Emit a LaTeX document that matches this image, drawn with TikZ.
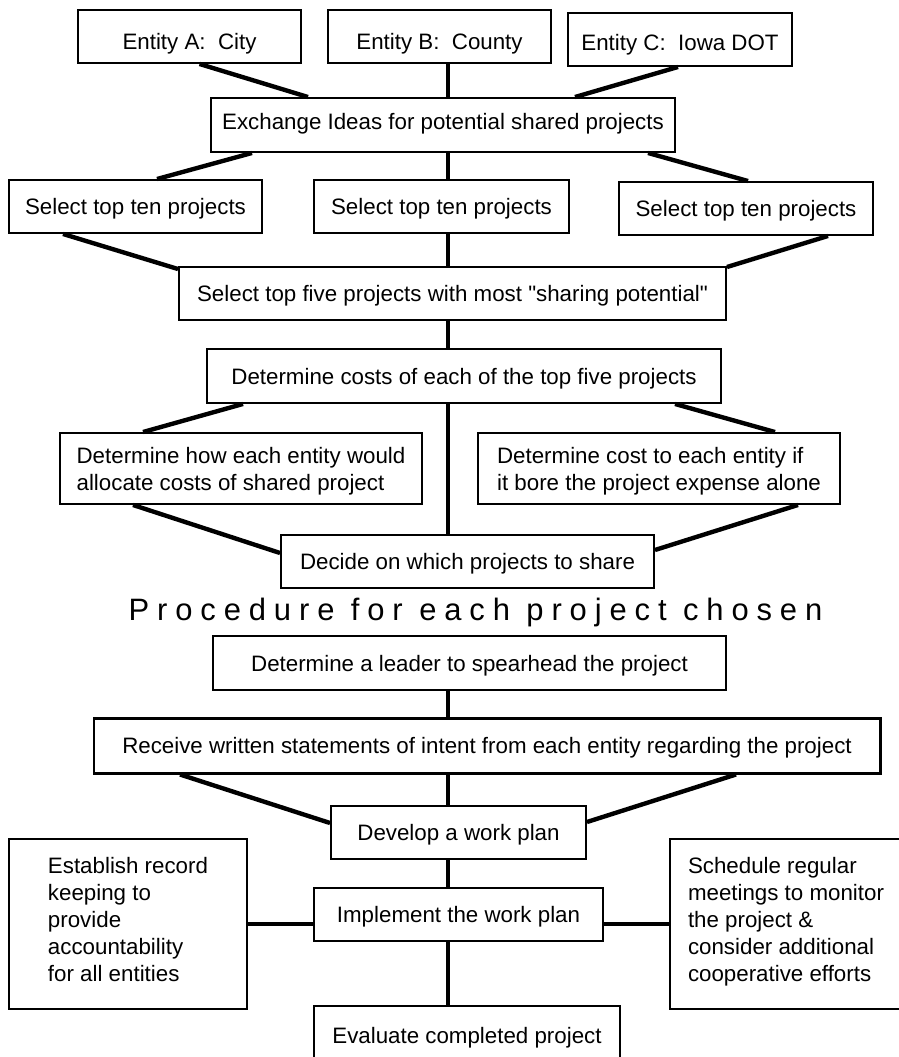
\documentclass[tikz,border=0pt]{standalone}
\usepackage{fontspec}
\setmainfont{Liberation Sans}
\newfontfamily\spacedfont[LetterSpace=25.5]{Liberation Sans}
\usepackage{tikz}
\usetikzlibrary{
  positioning,
  calc}
\tikzset{procbox/.style={draw, line width=1.1pt, inner sep=0pt, minimum height=1.06cm,
                         font=\fontsize{12.7pt}{15.45pt}\selectfont},
         onebox/.style={procbox, text height=0.32cm, text depth=0pt},
         tie/.style={line width=2.5pt}
        }

\begin{document}
\begin{tikzpicture}
\useasboundingbox (0,0) rectangle (17.96,-21.14);
\coordinate (spine) at (8.96,0);

%Upper part
\node[onebox, text height=0.52cm, minimum width=4.46cm] at (3.79,-0.73)(cityA){Entity A:\ \ City};
\node[onebox, text height=0.52cm, minimum width=4.46cm] at (8.79,-0.73)(countyB){Entity B:\ \ County};
\node[onebox, text height=0.44cm, minimum width=4.48cm] at (13.6,-0.79)(dotC){Entity C:\ \ Iowa DOT};

\node[onebox, text height=0.18cm, minimum width=9.28cm, minimum height=1.08cm] at (8.86,-2.5)(exch){Exchange Ideas for potential shared projects};

\node[onebox, minimum width=5.06cm] at (2.71,-4.13)(tenL){Select top ten projects};
\node[onebox, minimum width=5.10cm] at (8.83,-4.13)(tenM){Select top ten projects};
\node[onebox, minimum width=5.08cm] at (14.92,-4.17)(tenR){Select top ten projects};

\node[onebox, minimum width=10.94cm] at (9.05,-5.87)(fiveT){Select top five projects with most \textquotedbl sharing potential\textquotedbl};
\node[onebox, minimum width=10.28cm, minimum height=1.08cm] at (9.28,-7.52)(costs){Determine costs of each of the top five projects};

\node[procbox, text depth=0pt, minimum width=7.24cm, minimum height=1.42cm, align=left] at (4.82,-9.37)(alloc){Determine how each entity would\\allocate costs of shared project};
\node[procbox, text depth=0pt, minimum width=7.24cm, minimum height=1.42cm, align=left] at (13.18,-9.37)(alone){Determine cost to each entity if\\it bore the project expense alone};

\node[onebox, minimum width=7.46cm] at (9.35,-11.23)(decide){Decide on which projects to share};

\draw[tie] ([xshift=0.2cm]cityA.south) -- ([xshift=-2.7cm]exch.north);
\draw[tie] (countyB.south -| spine) -- (exch.north -| spine);
\draw[tie] ([xshift=-0.04cm]dotC.south) -- ([xshift=2.64cm]exch.north);

\draw[tie] ([xshift=-3.82cm]exch.south) -- ([xshift=0.43cm]tenL.north);
\draw[tie] (exch.south -| spine) -- (tenM.north -| spine);
\draw[tie] ([xshift=4.1cm]exch.south) -- ([xshift=0.04cm]tenR.north);

\draw[tie] ([xshift=-1.45cm]tenL.south) -- ([yshift=-0.06cm]fiveT.north west);
\draw[tie] (tenM.south -| spine) -- (fiveT.north -| spine);
\draw[tie] ([xshift=1.64cm]tenR.south) -- ([yshift=-0.02cm]fiveT.north east);

\draw[tie] (fiveT.south -| spine) -- (costs.north -| spine);
\draw[tie] ([xshift=-4.42cm]costs.south) -- ([xshift=-1.96cm]alloc.north);
\draw[tie] ([xshift=4.22cm]costs.south) -- ([xshift=2.32cm]alone.north);
\draw[tie] (costs.south -| spine) -- (decide.north -| spine);

\draw[tie] ([xshift=-2.16cm]alloc.south) -- ([yshift=0.17cm]decide.west);
\draw[tie] ([xshift=2.78cm]alone.south) -- ([yshift=0.23cm]decide.east);

%Lower part
\node[anchor=base, font=\fontsize{17.6pt}{20pt}\spacedfont] at (9.51,-12.4)(title){Procedure for each project chosen};

\node[onebox, minimum width=10.26cm, minimum height=1.08cm] at (9.39,-13.26)(leader){Determine a leader to spearhead the project};
\node[onebox, line width=1.7pt, minimum width=15.72cm, minimum height=1.10cm] at (9.74,-14.91)(intent){Receive written statements of intent from each entity regarding the project};
\node[onebox, minimum width=5.10cm] at (9.17,-16.65)(plan){Develop a work plan};

\node[procbox, text depth=0.18cm, minimum width=4.76cm, minimum height=3.40cm, align=left] at (2.56,-18.48)(record){Establish record\\keeping to\\provide\\accountability\\for all entities};
\node[onebox, minimum width=5.78cm] at (9.17,-18.29)(implement){Implement the work plan};
\node[procbox, text depth=0.18cm, minimum width=4.64cm, minimum height=3.40cm, align=left] at (15.72,-18.48)(meetings){Schedule regular\\meetings to monitor\\the project \&\\consider additional\\cooperative efforts};

\node[onebox, minimum width=6.12cm, minimum height=1.16cm] at (9.34,-20.70)(evaluate){Evaluate completed project};

\draw[tie] (leader.south -| spine) -- (intent.north -| spine);
\draw[tie] (intent.south -| spine) -- (plan.north -| spine);
\draw[tie] ([xshift=-6.14cm]intent.south) -- ([yshift=0.19cm]plan.west);
\draw[tie] ([xshift=4.98cm]intent.south) -- ([yshift=0.21cm]plan.east);

\draw[tie] (plan.south -| spine) -- (implement.north -| spine);
\draw[tie] (record.east) -- (record.east -| implement.west);
\draw[tie] (meetings.west -| implement.east) -- (meetings.west);
\draw[tie] (implement.south -| spine) -- (evaluate.north -| spine);
\end{tikzpicture}
\end{document}
